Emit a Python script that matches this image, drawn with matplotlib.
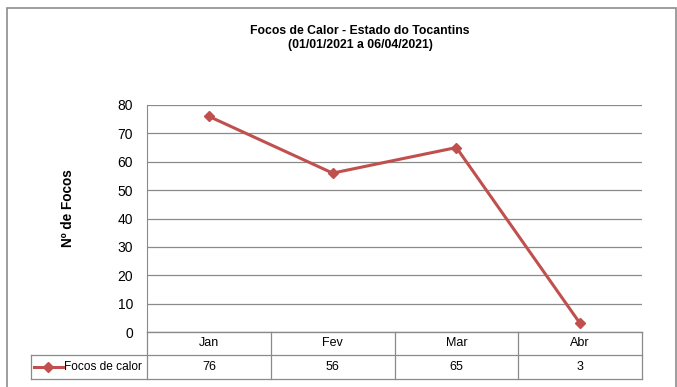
import matplotlib
matplotlib.use("Agg")
import matplotlib.pyplot as plt
from matplotlib.patches import Rectangle
from matplotlib.lines import Line2D
import matplotlib.transforms as mtransforms

months = ["Jan", "Fev", "Mar", "Abr"]
focos = [76, 56, 65, 3]
series_name = "Focos de calor"
title = "Focos de Calor - Estado do Tocantins\n(01/01/2021 a 06/04/2021)"
ylabel = "Nº de Focos"
yticks = [0, 10, 20, 30, 40, 50, 60, 70, 80]

plt.rcParams['font.family'] = ['Liberation Sans', 'DejaVu Sans']

W, H = 677, 387
fig = plt.figure(figsize=(W / 100, H / 100), dpi=100)
fig.patch.set_facecolor("white")

def fx(px):
    return px / W

def fy(py):
    return 1 - py / H

# outer frame
fig.add_artist(Rectangle((fx(7), fy(400)), fx(676) - fx(7), fy(8) - fy(400),
                         transform=fig.transFigure, fill=False,
                         edgecolor="#8c8c8c", linewidth=1.2, zorder=0))

left, right, top, bottom = 147, 642, 105, 332
ax = fig.add_axes([fx(left), fy(bottom), fx(right) - fx(left), fy(top) - fy(bottom)])

red = "#C0504D"
grid_c = "#8a8a8a"
xs = [i + 0.5 for i in range(len(months))]
ax.plot(xs, focos, color=red, linewidth=2.2, marker="D", markersize=5.5,
        markerfacecolor=red, markeredgecolor=red, zorder=3, clip_on=False)

ax.set_xlim(0, len(months))
ax.set_ylim(0, 80)
ax.set_yticks(yticks)
ax.set_xticks([])
ax.tick_params(axis="y", length=0, pad=10, labelsize=10)
ax.grid(axis="y", color=grid_c, linewidth=0.9)
ax.set_axisbelow(True)
for s in ["top", "right"]:
    ax.spines[s].set_visible(False)
ax.spines["left"].set_color(grid_c)
ax.spines["bottom"].set_color(grid_c)

fig.text(fx(360), fy(38), title, ha="center", va="center", fontsize=8.8,
         fontweight="bold", linespacing=1.2)
fig.text(fx(68), fy(208), ylabel, ha="center", va="center", rotation=90,
         fontsize=9.8, fontweight="bold")

# data table below the axis
trans = mtransforms.blended_transform_factory(ax.transData, fig.transFigure)
tab_c = "#8a8a8a"
ncat = len(months)
x_leg = -(left - 31) / (right - left) * ncat
y0, y1, y2 = fy(332), fy(355), fy(379)

def hline(xa, xb, y):
    fig.add_artist(Line2D([xa, xb], [y, y], transform=trans, color=tab_c, linewidth=0.9))

def vline(x, ya, yb):
    fig.add_artist(Line2D([x, x], [ya, yb], transform=trans, color=tab_c, linewidth=0.9))

hline(0, ncat, y0)
hline(x_leg, ncat, y1)
hline(x_leg, ncat, y2)
for i in range(ncat + 1):
    vline(i, y0, y2)
vline(x_leg, y1, y2)

for i, (m, v) in enumerate(zip(months, focos)):
    fig.text(i + 0.5, (y0 + y1) / 2, m, transform=trans, ha="center", va="center", fontsize=9)
    fig.text(i + 0.5, (y1 + y2) / 2, str(v), transform=trans, ha="center", va="center", fontsize=9)

# legend key in table
ym = (y1 + y2) / 2
fig.add_artist(Line2D([fx(34), fx(63)], [ym, ym], transform=fig.transFigure,
                      color=red, linewidth=2.2))
fig.add_artist(Line2D([fx(48)], [ym], transform=fig.transFigure, color=red,
                      marker="D", markersize=5, markerfacecolor=red, markeredgecolor=red))
fig.text(fx(64), ym, series_name, ha="left", va="center", fontsize=8.6)

fig.savefig("out.png", dpi=100)
